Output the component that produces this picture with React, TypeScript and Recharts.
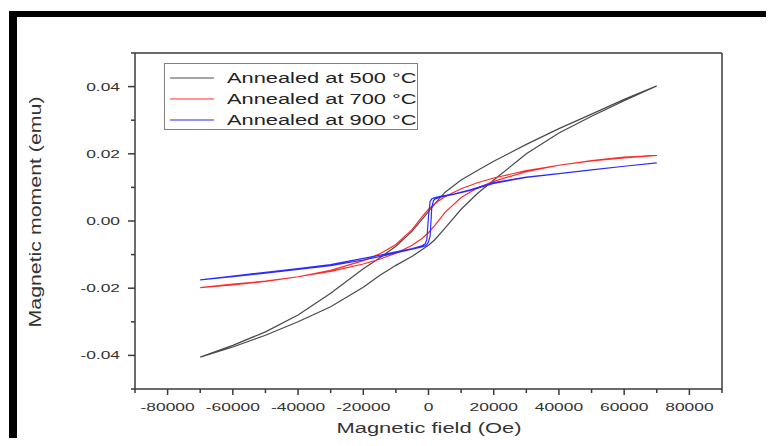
import { LineChart, Line, XAxis, YAxis, ReferenceLine, Legend } from 'recharts';

// hysteresis loops: each series goes down the upper branch (+70 kOe -> -70 kOe) and back up the lower one
const FIELD_500 = [
  70000, 60000, 50000, 40000, 30000, 20000, 15000, 10000, 5000, 2000, 0, -5000, -10000, -15000, -20000, -30000, -40000,
  -50000, -60000, -70000,
  -60000, -50000, -40000, -30000, -20000, -15000, -10000, -5000, 0, 2000, 5000, 10000, 15000, 20000, 30000, 40000,
  50000, 60000, 70000,
];
const MOMENT_500 = [
  0.0402, 0.0362, 0.0318, 0.0275, 0.0228, 0.0178, 0.015, 0.0122, 0.0085, 0.0052, 0.0028, -0.003, -0.0075, -0.011,
  -0.0142, -0.0215, -0.028, -0.033, -0.037, -0.0405,
  -0.0375, -0.034, -0.03, -0.0255, -0.0197, -0.0162, -0.0132, -0.0105, -0.0072, -0.0055, -0.0022, 0.0035, 0.0082,
  0.0122, 0.02, 0.0262, 0.0312, 0.0358, 0.0402,
];

const FIELD_700 = [
  70000, 60000, 50000, 40000, 30000, 20000, 15000, 10000, 5000, 2000, 0, -2000, -5000, -10000, -15000, -20000, -30000,
  -40000, -50000, -60000, -70000,
  -60000, -50000, -40000, -30000, -20000, -15000, -10000, -5000, -2000, 0, 2000, 5000, 10000, 15000, 20000, 30000,
  40000, 50000, 60000, 70000,
];
const MOMENT_700 = [
  0.0195, 0.0188, 0.0179, 0.0166, 0.015, 0.0128, 0.0114, 0.0096, 0.0072, 0.0052, 0.0035, 0.0012, -0.0025, -0.007,
  -0.0098, -0.0118, -0.0147, -0.0166, -0.018, -0.019, -0.0198,
  -0.0188, -0.0179, -0.0166, -0.015, -0.0128, -0.0114, -0.0096, -0.0072, -0.0052, -0.0035, -0.0012, 0.0025, 0.007,
  0.0098, 0.0118, 0.0147, 0.0166, 0.018, 0.019, 0.0195,
];

const FIELD_900 = [
  70000, 60000, 50000, 40000, 30000, 20000, 12500, 8000, 4000, 2000, 1000, 500, 0, -500, -1000, -2000, -5000, -10000,
  -15000, -20000, -30000, -40000, -50000, -60000, -70000,
  -60000, -50000, -40000, -30000, -20000, -15000, -10000, -5000, -2000, -1000, -500, 0, 500, 1000, 1500, 2000, 4000,
  8000, 12500, 20000, 30000, 40000, 50000, 60000, 70000,
];
const MOMENT_900 = [
  0.0173, 0.0163, 0.0152, 0.0141, 0.0131, 0.0114, 0.0092, 0.0081, 0.0074, 0.007, 0.0066, 0.0058, 0.0015, -0.0055,
  -0.0068, -0.0074, -0.0082, -0.0092, -0.0102, -0.0111, -0.013, -0.0142, -0.0153, -0.0164, -0.0175,
  -0.0166, -0.0155, -0.0144, -0.0133, -0.0116, -0.0106, -0.0095, -0.0084, -0.0077, -0.0074, -0.007, -0.0062, -0.0045,
  0.004, 0.006, 0.0066, 0.0072, 0.008, 0.009, 0.0112, 0.013, 0.0141, 0.0152, 0.0163, 0.0173,
];

const X_TICKS = [
  -90000, -80000, -70000, -60000, -50000, -40000, -30000, -20000, -10000, 0, 10000, 20000, 30000, 40000, 50000, 60000,
  70000, 80000, 90000,
];
const X_LABELED = [-80000, -60000, -40000, -20000, 0, 20000, 40000, 60000, 80000];
const Y_TICKS = [-0.05, -0.04, -0.03, -0.02, -0.01, 0, 0.01, 0.02, 0.03, 0.04, 0.05];
const Y_LABELED = [-0.04, -0.02, 0, 0.02, 0.04];

const FONT = '"Liberation Sans", Arial, sans-serif';
const AXIS = '#3a3a3a';

const toRows = (h: number[], m: number[]) => h.map((v, i) => ({ h: v, m: m[i] }));

const SERIES = [
  { name: 'Annealed at 500 °C', color: '#4a4a4a', data: toRows(FIELD_500, MOMENT_500) },
  { name: 'Annealed at 700 °C', color: '#ff2a2a', data: toRows(FIELD_700, MOMENT_700) },
  { name: 'Annealed at 900 °C', color: '#2b2bff', data: toRows(FIELD_900, MOMENT_900) },
];

// axis area: plot spans x 135..722, y 53..389
const PLOT_LEFT = 135;
const PLOT_BOTTOM = 389;

function XTick({ x, payload }: any) {
  const y = PLOT_BOTTOM;
  const major = X_LABELED.includes(payload.value);
  return (
    <g>
      <line x1={x} x2={x} y1={y} y2={y + (major ? 6 : 4)} stroke={AXIS} strokeWidth={1.5} />
      {major && (
        <text
          transform={`translate(${x},${y + 22}) scale(1.58,1)`}
          textAnchor="middle"
          fontSize={11}
          fontFamily={FONT}
          fill="#333"
        >
          {payload.value}
        </text>
      )}
    </g>
  );
}

function YTick({ y, payload }: any) {
  const x = PLOT_LEFT;
  const major = Y_LABELED.includes(payload.value);
  return (
    <g>
      <line x1={x} x2={x - (major ? 7 : 4)} y1={y} y2={y} stroke={AXIS} strokeWidth={1.5} />
      {major && (
        <text
          transform={`translate(${x - 15},${y + 4}) scale(1.58,1)`}
          textAnchor="end"
          fontSize={11}
          fontFamily={FONT}
          fill="#333"
        >
          {payload.value.toFixed(2)}
        </text>
      )}
    </g>
  );
}

function LegendBox({ payload }: any) {
  return (
    <svg width={254} height={67} style={{ display: 'block' }}>
      <rect x={0.5} y={0.5} width={253} height={66} fill="#fff" stroke="#808080" />
      {(payload || []).map((p: any, i: number) => (
        <g key={p.value}>
          <line x1={6} x2={50} y1={15 + i * 21} y2={15 + i * 21} stroke={p.color} strokeWidth={1.2} />
          <text
            transform={`translate(63,${20 + i * 21}) scale(1.56,1)`}
            fontSize={14}
            fontFamily={FONT}
            fill="#222"
          >
            {p.value}
          </text>
        </g>
      ))}
    </svg>
  );
}

export default function App() {
  return (
    <div style={{ position: 'relative', width: 774, height: 446, margin: -8, background: '#fff', overflow: 'hidden' }}>
      <LineChart width={774} height={446} margin={{ top: 53, right: 52, bottom: 17, left: 75 }}>
        <XAxis
          type="number"
          dataKey="h"
          domain={[-90000, 90000]}
          ticks={X_TICKS}
          interval={0}
          height={40}
          tickLine={false}
          tick={<XTick />}
          axisLine={{ stroke: AXIS, strokeWidth: 1.5 }}
          label={{
            value: 'Magnetic field (Oe)',
            content: () => (
              <text
                x={429}
                y={433}
                textAnchor="middle"
                fontSize={14}
                fontFamily={FONT}
                fill="#333"
                textLength={185}
                lengthAdjust="spacingAndGlyphs"
              >
                Magnetic field (Oe)
              </text>
            ),
          }}
        />
        <YAxis
          type="number"
          domain={[-0.05, 0.05]}
          ticks={Y_TICKS}
          interval={0}
          width={60}
          tickLine={false}
          tick={<YTick />}
          axisLine={{ stroke: AXIS, strokeWidth: 1.5 }}
          label={{
            value: 'Magnetic moment (emu)',
            content: () => (
              <text
                transform="translate(41,212) rotate(-90)"
                textAnchor="middle"
                fontSize={16}
                fontFamily={FONT}
                fill="#333"
                textLength={231}
                lengthAdjust="spacingAndGlyphs"
              >
                Magnetic moment (emu)
              </text>
            ),
          }}
        />
        <ReferenceLine x={90000} stroke={AXIS} strokeWidth={1.5} />
        <ReferenceLine y={0.05} stroke={AXIS} strokeWidth={1.5} />
        <Legend
          layout="vertical"
          align="center"
          verticalAlign="middle"
          wrapperStyle={{ left: 164, top: 63, width: 254, height: 67 }}
          content={<LegendBox />}
        />
        {SERIES.map((s) => (
          <Line
            key={s.name}
            data={s.data}
            dataKey="m"
            name={s.name}
            type="linear"
            stroke={s.color}
            strokeWidth={1.2}
            dot={false}
            activeDot={false}
            isAnimationActive={false}
          />
        ))}
      </LineChart>
      <div style={{ position: 'absolute', left: 9, top: 11, width: 765, height: 6, background: '#000' }} />
      <div style={{ position: 'absolute', left: 9, top: 11, width: 8, height: 435, background: '#000' }} />
    </div>
  );
}
